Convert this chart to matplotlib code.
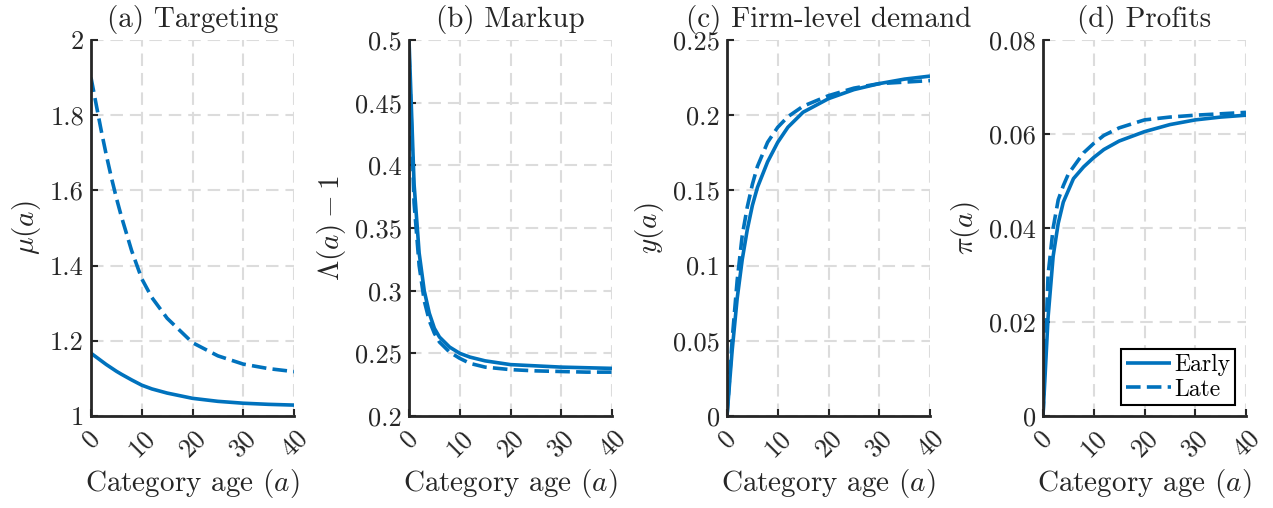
import matplotlib
matplotlib.use("Agg")
import matplotlib.pyplot as plt
import numpy as np

#-------------------------------------------------------------------------------
# Data

ages = [0, 1, 2, 3, 4, 5, 6, 8, 10, 12, 15, 20, 25, 30, 35, 40]

targeting_early = [1.167, 1.157, 1.147, 1.137, 1.128, 1.119, 1.111, 1.096, 1.082,
                   1.072, 1.061, 1.047, 1.039, 1.034, 1.031, 1.029]
targeting_late = [1.90, 1.83, 1.76, 1.695, 1.635, 1.58, 1.53, 1.44, 1.365,
                  1.315, 1.26, 1.195, 1.16, 1.138, 1.126, 1.118]

markup_early = [0.500, 0.385, 0.330, 0.300, 0.282, 0.270, 0.263, 0.255, 0.250,
                0.247, 0.244, 0.241, 0.240, 0.239, 0.2385, 0.238]
markup_late = [0.490, 0.370, 0.320, 0.292, 0.276, 0.266, 0.259, 0.251, 0.246,
               0.242, 0.239, 0.237, 0.236, 0.2355, 0.235, 0.235]

demand_early = [0.0, 0.043, 0.078, 0.104, 0.124, 0.140, 0.152, 0.169, 0.182,
                0.192, 0.202, 0.211, 0.217, 0.221, 0.224, 0.226]
demand_late = [0.0, 0.050, 0.090, 0.120, 0.139, 0.154, 0.166, 0.182, 0.192,
               0.199, 0.206, 0.213, 0.218, 0.221, 0.222, 0.223]

profits_early = [0.0, 0.021, 0.034, 0.041, 0.0455, 0.048, 0.0505, 0.053, 0.055,
                 0.0567, 0.0585, 0.0605, 0.062, 0.063, 0.0636, 0.064]
profits_late = [0.0, 0.030, 0.040, 0.046, 0.049, 0.0515, 0.053, 0.056, 0.058,
                0.0597, 0.0613, 0.063, 0.0636, 0.064, 0.0643, 0.0646]

titles = ["(a) Targeting", "(b) Markup", "(c) Firm-level demand", "(d) Profits"]
ylabels = [r"$\mu(a)$", r"$\Lambda(a)-1$", r"$y(a)$", r"$\pi(a)$"]
series = [(targeting_early, targeting_late), (markup_early, markup_late),
          (demand_early, demand_late), (profits_early, profits_late)]
yticks = [[1, 1.2, 1.4, 1.6, 1.8, 2],
          [0.2, 0.25, 0.3, 0.35, 0.4, 0.45, 0.5],
          [0, 0.05, 0.1, 0.15, 0.2, 0.25],
          [0, 0.02, 0.04, 0.06, 0.08]]
ytick_labels = [["1", "1.2", "1.4", "1.6", "1.8", "2"],
                ["0.2", "0.25", "0.3", "0.35", "0.4", "0.45", "0.5"],
                ["0", "0.05", "0.1", "0.15", "0.2", "0.25"],
                ["0", "0.02", "0.04", "0.06", "0.08"]]
xticks = [0, 10, 20, 30, 40]

#-------------------------------------------------------------------------------

def setup_format():
  plt.rcParams["font.family"] = "serif"
  plt.rcParams["font.serif"] = ["cmr10", "DejaVu Serif"]
  plt.rcParams["mathtext.fontset"] = "cm"
  plt.rcParams["axes.unicode_minus"] = False
  plt.rcParams["lines.scale_dashes"] = False

def draw_panel(ax, i):
  blue = "#0072BD"
  early, late = series[i]
  ax.plot(ages, early, color=blue, lw=2.6, label="Early", solid_capstyle="butt")
  ax.plot(ages, late, color=blue, lw=2.6, dashes=(10.5, 4.5), label="Late")

  lo, hi = yticks[i][0], yticks[i][-1]
  ax.set_xlim(0, 40)
  ax.set_ylim(lo, hi)
  ax.set_xticks(xticks)
  ax.set_xticklabels([str(t) for t in xticks], rotation=45, ha="center")
  ax.set_yticks(yticks[i])
  ax.set_yticklabels(ytick_labels[i])

  ax.grid(True, color="#dcdcdc", lw=1.5, dashes=(9, 5))
  ax.set_axisbelow(True)
  for s in ["top", "right"]:
    ax.spines[s].set_visible(False)
  for s in ["left", "bottom"]:
    ax.spines[s].set_linewidth(2.0)
    ax.spines[s].set_color("#262626")
  ax.tick_params(direction="in", length=5, width=1.5, color="#262626",
                 labelsize=19, labelcolor="#262626", pad=5)
  ax.tick_params(axis="x", pad=7)

  ax.set_title(titles[i], fontsize=21, color="#262626", pad=9)
  ax.set_xlabel(r"Category age $(a)$", fontsize=21, color="#262626", labelpad=4)
  ax.set_ylabel(ylabels[i], fontsize=21, color="#262626", labelpad=5)

def main():
  setup_format()
  fig = plt.figure(figsize=(12.73, 5.08), dpi=100)
  lefts = [91, 409, 727, 1043]
  for i, left in enumerate(lefts):
    ax = fig.add_axes([left / 1273, 92 / 508, 203 / 1273, 376 / 508])
    draw_panel(ax, i)
    if i == 3:
      leg = ax.legend(loc="lower right", fontsize=17, fancybox=False,
                      framealpha=1, edgecolor="#000000", handlelength=1.9,
                      borderpad=0.2, labelspacing=0.1, handletextpad=0.15,
                      borderaxespad=0.45)
      leg.get_frame().set_linewidth(1.5)
  fig.savefig("out.png", dpi=100, facecolor="white")
  plt.close(fig)

if __name__ == "__main__":
  main()
